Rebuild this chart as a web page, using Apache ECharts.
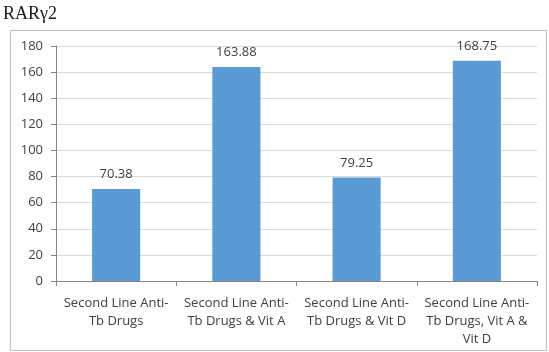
<!DOCTYPE html>
<html>
<head>
<meta charset="utf-8">
<script src="https://cdn.jsdelivr.net/npm/echarts@6/dist/echarts.min.js"></script>
<style>
  html, body { margin: 0; padding: 0; background: #fff; }
  #chart { width: 549px; height: 352px; }
</style>
</head>
<body>
<div id="chart"></div>
<script>
// Treatment groups and RARγ2 expression values
const categories = [
  'Second Line Anti-\nTb Drugs',
  'Second Line Anti-\nTb Drugs & Vit A',
  'Second Line Anti-\nTb Drugs & Vit D',
  'Second Line Anti-\nTb Drugs, Vit A &\nVit D'
];
const values = [70.38, 163.88, 79.25, 168.75];
const yTicks = [0, 20, 40, 60, 80, 100, 120, 140, 160, 180];

const chart = echarts.init(document.getElementById('chart'));
const labelFont = '"Open Sans", "Liberation Sans", sans-serif';

chart.setOption({
  animation: false,
  backgroundColor: '#ffffff',
  graphic: [
    {
      type: 'rect',
      shape: { x: 10.5, y: 30.5, width: 536, height: 320 },
      style: { fill: 'none', stroke: '#bfbfbf', lineWidth: 1 },
      silent: true
    },
    {
      type: 'text',
      left: 3,
      top: 5,
      style: {
        text: 'RARγ2',
        font: '18px "Liberation Serif", "DejaVu Serif", serif',
        fill: '#1a1a1a'
      }
    }
  ],
  grid: { left: 56, right: 12, top: 46, bottom: 71 },
  xAxis: {
    type: 'category',
    data: categories,
    axisLine: { lineStyle: { color: '#868686' } },
    axisTick: { show: true, length: 5, alignWithLabel: false, lineStyle: { color: '#868686' } },
    axisLabel: {
      color: '#404040',
      fontFamily: labelFont,
      fontSize: 13,
      lineHeight: 18,
      margin: 13,
      interval: 0
    }
  },
  yAxis: {
    type: 'value',
    min: yTicks[0],
    max: yTicks[yTicks.length - 1],
    interval: 20,
    axisLine: { show: true, lineStyle: { color: '#868686' } },
    axisTick: { show: true, length: 5, lineStyle: { color: '#868686' } },
    axisLabel: {
      color: '#404040',
      fontFamily: labelFont,
      fontSize: 13,
      margin: 13
    },
    splitLine: { lineStyle: { color: '#d9d9d9' } }
  },
  series: [{
    type: 'bar',
    data: values,
    barWidth: '40%',
    itemStyle: { color: '#5b9bd5' },
    label: {
      show: true,
      position: 'top',
      distance: 8,
      color: '#404040',
      fontFamily: labelFont,
      fontSize: 13,
      formatter: p => p.value.toFixed(2)
    }
  }]
});
</script>
</body>
</html>
